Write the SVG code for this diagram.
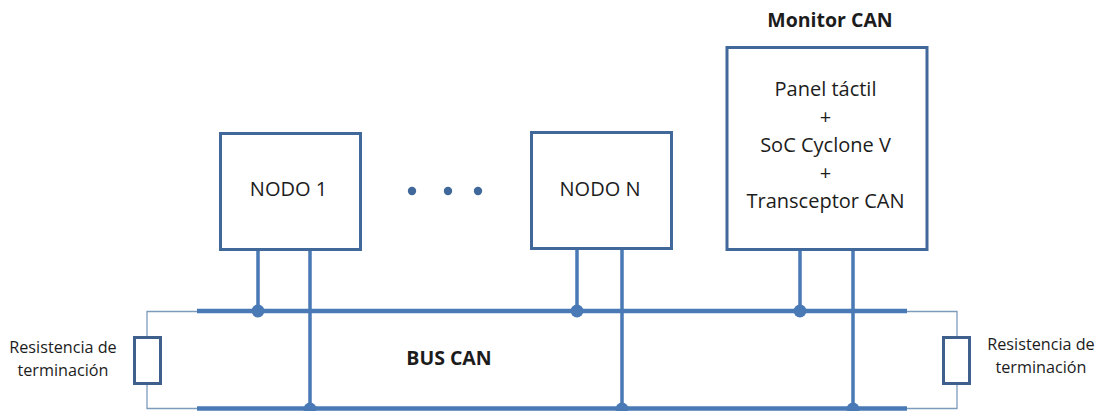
<svg xmlns="http://www.w3.org/2000/svg" width="1098" height="411" viewBox="0 0 1098 411">
<style>
.box{fill:#fff;stroke:#41689a;stroke-width:3}
.res{fill:#fff;stroke:#3f5f8c;stroke-width:3}
.w{fill:none;stroke:#4a7ab5;stroke-width:3.5}
.bus{fill:none;stroke:#4a7ab5;stroke-width:4.5}
.thin{fill:none;stroke:#7d9bbd;stroke-width:1.3}
.d{fill:#4a7ab5}
.e{fill:#41689a}
text{font-family:"Open Sans","Liberation Sans",sans-serif;font-size:20px;fill:#1c1c1c;text-anchor:middle}
.s{font-size:16.200px}
.b{font-weight:700;font-size:19.500px}
</style>
<rect width="1098" height="411" fill="#fff"/>
<g id="connectors">
<path class="thin" d="M197 311.500H147V408.500H197"/>
<path class="thin" d="M907 311.500H957V408.500H907"/>
<path class="bus" d="M197 311H907"/>
<path class="bus" d="M197 408.500H907"/>
<path class="w" d="M258 250V311M310 250V409M577 249V311M622 249V409M800 249V311M853 249V409"/>
<circle class="d" cx="258" cy="311" r="6.500"/>
<circle class="d" cx="577" cy="311" r="6.500"/>
<circle class="d" cx="800" cy="311" r="6.500"/>
<circle class="d" cx="310" cy="409" r="6.500"/>
<circle class="d" cx="622" cy="409" r="6.500"/>
<circle class="d" cx="853" cy="409" r="6.500"/>
</g>
<g id="nodo1"><rect class="box" x="220.500" y="133.500" width="140" height="116"/><text x="288.500" y="196">NODO 1</text></g>
<g id="ellipsis"><circle class="e" cx="412" cy="191" r="4.200"/><circle class="e" cx="448" cy="191" r="4.200"/><circle class="e" cx="478" cy="191" r="4.200"/></g>
<g id="nodoN"><rect class="box" x="531.500" y="132.500" width="140" height="116"/><text x="600" y="196">NODO N</text></g>
<g id="monitor"><text class="b" x="830" y="27">Monitor CAN</text><rect class="box" x="727" y="47.500" width="200" height="202"/>
<text x="825.500" y="96">Panel táctil</text><text x="825.500" y="124">+</text><text x="825.500" y="152">SoC Cyclone V</text><text x="825.500" y="180">+</text><text x="825.500" y="208">Transceptor CAN</text></g>
<g id="resL"><rect class="res" x="134.500" y="337.500" width="26" height="46"/><text class="s" x="63" y="353">Resistencia de</text><text class="s" x="63" y="376">terminación</text></g>
<g id="resR"><rect class="res" x="943.500" y="337.500" width="26" height="46"/><text class="s" x="1041" y="350">Resistencia de</text><text class="s" x="1041" y="373">terminación</text></g>
<g id="bus"><text class="b" x="449" y="365">BUS CAN</text></g>
</svg>
